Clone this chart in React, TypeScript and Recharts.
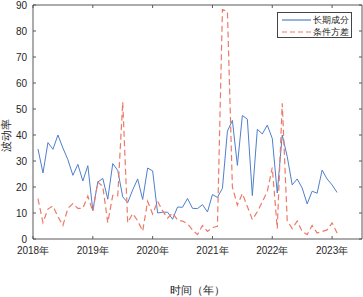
import React from 'react';
import { LineChart, Line, XAxis, YAxis, Legend } from 'recharts';

// monthly observations, Jan 2018 - Jan 2023
const months = [
  '2018-01', '2018-02', '2018-03', '2018-04', '2018-05', '2018-06', '2018-07', '2018-08', '2018-09', '2018-10', '2018-11', '2018-12',
  '2019-01', '2019-02', '2019-03', '2019-04', '2019-05', '2019-06', '2019-07', '2019-08', '2019-09', '2019-10', '2019-11', '2019-12',
  '2020-01', '2020-02', '2020-03', '2020-04', '2020-05', '2020-06', '2020-07', '2020-08', '2020-09', '2020-10', '2020-11', '2020-12',
  '2021-01', '2021-02', '2021-03', '2021-04', '2021-05', '2021-06', '2021-07', '2021-08', '2021-09', '2021-10', '2021-11', '2021-12',
  '2022-01', '2022-02', '2022-03', '2022-04', '2022-05', '2022-06', '2022-07', '2022-08', '2022-09', '2022-10', '2022-11', '2022-12',
  '2023-01',
];

// 长期成分
const longTerm = [
  34.6, 25.4, 37.1, 34.5, 40.0, 35.0, 30.5, 24.5, 28.7, 22.3, 28.2, 11.0,
  21.9, 23.3, 15.3, 29.0, 26.4, 16.2, 14.0, 18.9, 23.1, 15.2, 27.3, 26.2,
  10.0, 10.3, 10.3, 7.6, 12.3, 12.2, 15.6, 11.8, 11.7, 13.2, 10.4, 17.1,
  16.0, 19.5, 41.5, 45.6, 28.3, 47.5, 46.1, 16.7, 42.2, 40.4, 43.8, 38.7,
  17.7, 40.0, 31.7, 20.8, 23.1, 19.6, 13.5, 18.4, 17.6, 26.5, 23.1, 20.8,
  17.9,
];

// 条件方差
const condVar = [
  15.5, 6.3, 11.5, 12.7, 8.6, 5.2, 11.8, 13.6, 11.8, 11.8, 16.5, 10.6,
  21.9, 20.2, 6.3, 16.8, 16.6, 52.7, 6.3, 9.8, 7.0, 3.0, 14.5, 9.6,
  14.5, 10.8, 8.0, 10.0, 7.3, 6.9, 5.8, 3.5, 1.7, 5.2, 2.9, 4.4,
  4.9, 88.2, 87.6, 20.0, 13.0, 17.5, 12.5, 7.5, 10.5, 14.3, 18.3, 27.5,
  4.0, 52.2, 7.0, 4.0, 6.9, 2.9, 1.7, 5.2, 2.3, 2.9, 3.5, 6.2,
  2.3,
];

const yearTicks = [2018, 2019, 2020, 2021, 2022, 2023];
const valueTicks = [0, 10, 20, 30, 40, 50, 60, 70, 80, 90];

const data = months.map((m, i) => {
  const [y, mo] = m.split('-').map(Number);
  return { t: y + mo / 12, long: longTerm[i], cond: condVar[i] };
});

const AXIS = '#595959';
const BLUE = '#4F7FCC';
const RED = '#EB7B68';
const tickFont = { fill: '#262626', fontSize: 10, fontFamily: 'Liberation Sans, Arial, sans-serif' };

const legendItems = [
  { label: '长期成分', color: BLUE, dash: undefined },
  { label: '条件方差', color: RED, dash: '5 3' },
];

const LegendBox = () => (
  <div
    style={{
      border: '1px solid #444',
      background: '#fff',
      width: 75,
      height: 26,
      boxSizing: 'border-box',
      fontFamily: 'serif',
      fontSize: 9,
      color: '#222',
      padding: '1px 0 0 4px',
    }}
  >
    {legendItems.map((it) => (
      <div key={it.label} style={{ display: 'flex', alignItems: 'center', height: 12, whiteSpace: 'nowrap' }}>
        <svg width={29} height={6} style={{ marginRight: 2, flexShrink: 0 }}>
          <line x1={0} y1={3} x2={29} y2={3} stroke={it.color} strokeWidth={1.2} strokeDasharray={it.dash} />
        </svg>
        <span style={{ lineHeight: '12px' }}>{it.label}</span>
      </div>
    ))}
  </div>
);

export default function App() {
  return (
    <div style={{ position: 'absolute', left: 0, top: 0, width: 363, height: 297, background: '#fff' }}>
      <LineChart width={363} height={297} data={data} margin={{ top: 4, right: 0, left: 0, bottom: 0 }}>
        <XAxis
          dataKey="t"
          type="number"
          domain={[2018, 2023.5]}
          ticks={yearTicks}
          tickFormatter={(v) => `${v}年`}
          height={32}
          stroke={AXIS}
          tickSize={-3}
          tickMargin={11}
          tick={tickFont}
          allowDataOverflow
        />
        <XAxis
          xAxisId="top"
          orientation="top"
          dataKey="t"
          type="number"
          domain={[2018, 2023.5]}
          ticks={yearTicks}
          tickFormatter={() => ''}
          height={1}
          stroke={AXIS}
          tickSize={-3}
          allowDataOverflow
        />
        <YAxis
          domain={[0, 90]}
          ticks={valueTicks}
          width={33}
          stroke={AXIS}
          tickSize={-3}
          tickMargin={9}
          tick={tickFont}
          allowDataOverflow
        />
        <YAxis
          yAxisId="right"
          orientation="right"
          domain={[0, 90]}
          ticks={valueTicks}
          tickFormatter={() => ''}
          width={1}
          stroke={AXIS}
          tickSize={-3}
          allowDataOverflow
        />
        <Line type="linear" dataKey="long" name="长期成分" stroke={BLUE} strokeWidth={1} dot={false} isAnimationActive={false} />
        <Line type="linear" dataKey="cond" name="条件方差" stroke={RED} strokeWidth={1.2} strokeDasharray="6 3.5" dot={false} isAnimationActive={false} />
        <Legend
          content={() => <LegendBox />}
          wrapperStyle={{ position: 'absolute', left: 277, top: 12, width: 75, height: 26 }}
        />
      </LineChart>
      <div
        style={{
          position: 'absolute',
          left: 6,
          top: 135,
          transform: 'translate(-50%, -50%) rotate(-90deg)',
          fontFamily: 'serif',
          fontSize: 11,
          color: '#222',
          whiteSpace: 'nowrap',
        }}
      >
        波动率
      </div>
      <div
        style={{
          position: 'absolute',
          left: 197,
          top: 290,
          transform: 'translate(-50%, -50%)',
          fontFamily: 'serif',
          fontSize: 11,
          color: '#222',
          whiteSpace: 'nowrap',
        }}
      >
        时间（年）
      </div>
    </div>
  );
}
